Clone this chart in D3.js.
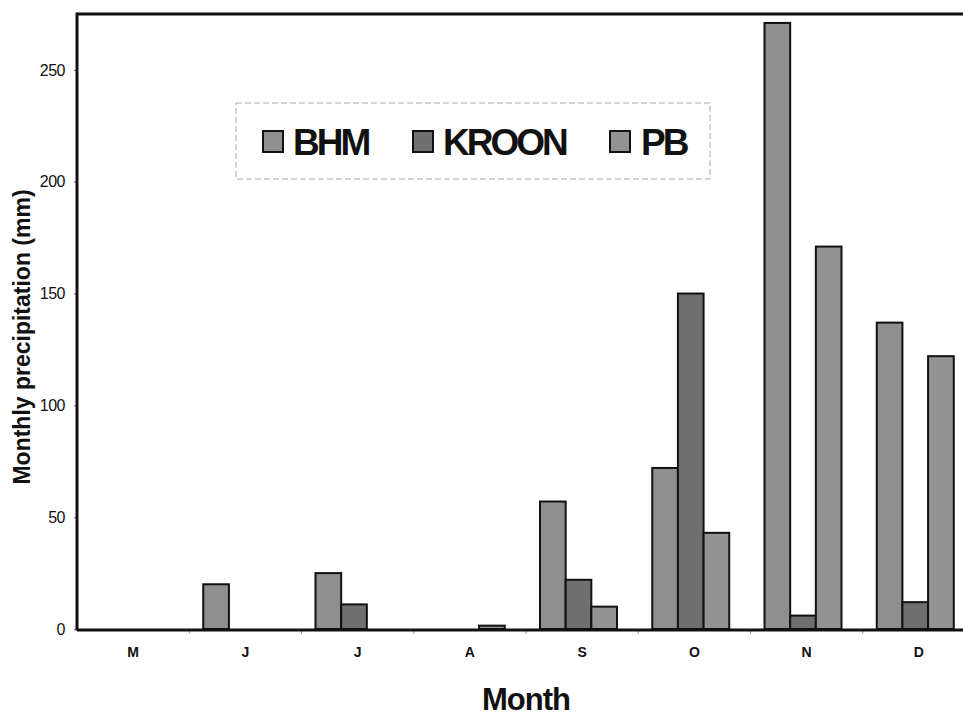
<!DOCTYPE html>
<html>
<head>
<meta charset="utf-8">
<script src="https://cdn.jsdelivr.net/npm/d3@7"></script>
<style>
  body { margin: 0; background: #fff; }
  text { font-family: "Liberation Sans", Arial, sans-serif; fill: #111; }
</style>
</head>
<body>
<div id="chart"></div>
<script>
// data
var months = ["M", "J", "J", "A", "S", "O", "N", "D"];
var seriesNames = ["BHM", "KROON", "PB"];
var bhm   = [0, 20, 25, 0,   57, 72, 271, 137];
var kroon = [0, 0,  11, 0,   22, 150, 6,  12];
var pb    = [0, 0,  0,  1.5, 10, 43, 171, 122];
var yTicks = [0, 50, 100, 150, 200, 250];

var WIDTH = 963, HEIGHT = 718;
var LEFT = 77, TOP = 14, BASE = 629;

var fills = {BHM: "#8f8f8f", KROON: "#6f6f6f", PB: "#939393"};

var svg = d3.select("#chart").append("svg")
    .attr("width", WIDTH)
    .attr("height", HEIGHT);

// months are keyed by index since J appears twice
var x0 = d3.scaleBand()
    .domain(d3.range(months.length))
    .range([LEFT, LEFT + 8 * 112.25]);

var x1 = d3.scaleBand()
    .domain(seriesNames)
    .range([14, 14 + 77]);

var y = d3.scaleLinear()
    .domain([0, 275])
    .range([BASE, TOP]);

var rows = months.map(function(m, i) {
    return {i: i, BHM: bhm[i], KROON: kroon[i], PB: pb[i]};
});

// bars
var groups = svg.append("g").selectAll("g")
    .data(rows)
    .join("g")
    .attr("transform", function(d) { return "translate(" + x0(d.i) + ",0)"; });

groups.selectAll("rect")
    .data(function(d) {
        return seriesNames.map(function(s) { return {key: s, value: d[s]}; })
            .filter(function(e) { return e.value > 0; });
    })
    .join("rect")
    .attr("x", function(d) { return x1(d.key); })
    .attr("width", x1.bandwidth())
    .attr("y", function(d) { return y(d.value); })
    .attr("height", function(d) { return BASE - y(d.value); })
    .attr("fill", function(d) { return fills[d.key]; })
    .attr("stroke", "#111")
    .attr("stroke-width", 2);

// y axis
var yAxis = svg.append("g")
    .attr("transform", "translate(" + LEFT + ",0)")
    .call(d3.axisLeft(y).tickValues(yTicks).tickSize(3).tickPadding(9));
yAxis.select(".domain").remove();
yAxis.selectAll(".tick line").attr("stroke", "#777");
yAxis.selectAll(".tick text")
    .style("font-family", "'Liberation Sans', Arial, sans-serif")
    .style("font-size", "16px")
    .style("letter-spacing", "-0.5px")
    .style("fill", "#111");

// x axis labels
var xAxis = svg.append("g")
    .attr("transform", "translate(0," + BASE + ")")
    .call(d3.axisBottom(x0).tickSize(0).tickPadding(18)
        .tickFormat(function(i) { return months[i]; }));
xAxis.select(".domain").remove();
xAxis.selectAll(".tick text")
    .style("font-family", "'Liberation Sans', Arial, sans-serif")
    .style("font-size", "14px")
    .style("font-weight", "bold")
    .style("fill", "#111");

// small marks between months
svg.append("g").selectAll("line")
    .data(d3.range(1, months.length))
    .join("line")
    .attr("x1", function(i) { return x0(i); })
    .attr("x2", function(i) { return x0(i); })
    .attr("y1", BASE + 2)
    .attr("y2", BASE + 5)
    .attr("stroke", "#999");

// frame lines
svg.append("line")
    .attr("x1", LEFT).attr("x2", LEFT)
    .attr("y1", TOP - 1.5).attr("y2", BASE + 1.5)
    .attr("stroke", "#111").attr("stroke-width", 3);
svg.append("line")
    .attr("x1", LEFT).attr("x2", WIDTH)
    .attr("y1", TOP).attr("y2", TOP)
    .attr("stroke", "#111").attr("stroke-width", 3);
svg.append("line")
    .attr("x1", LEFT).attr("x2", WIDTH)
    .attr("y1", BASE + 1).attr("y2", BASE + 1)
    .attr("stroke", "#111").attr("stroke-width", 3);

// axis titles
svg.append("text")
    .attr("transform", "translate(30," + 337 + ") rotate(-90)")
    .style("text-anchor", "middle")
    .style("font-size", "23px")
    .style("font-weight", "bold")
    .text("Monthly precipitation (mm)");

svg.append("text")
    .attr("x", 526)
    .attr("y", 710)
    .style("text-anchor", "middle")
    .style("font-size", "31px")
    .style("font-weight", "bold")
    .style("letter-spacing", "-1px")
    .text("Month");

// legend
var legend = svg.append("g");
legend.append("rect")
    .attr("x", 236).attr("y", 103)
    .attr("width", 474).attr("height", 76)
    .attr("fill", "#fff")
    .attr("stroke", "#aaa")
    .attr("stroke-dasharray", "6,3");

var legendX = {BHM: 263, KROON: 413, PB: 610};
var legendItems = legend.selectAll("g.item")
    .data(seriesNames)
    .join("g")
    .attr("class", "item")
    .attr("transform", function(d) { return "translate(" + legendX[d] + ",0)"; });

legendItems.append("rect")
    .attr("x", 0).attr("y", 131)
    .attr("width", 20).attr("height", 21)
    .attr("fill", function(d) { return fills[d]; })
    .attr("stroke", "#111")
    .attr("stroke-width", 2);

legendItems.append("text")
    .attr("x", function(d) { return d === "PB" ? 31 : 30; })
    .attr("y", 155)
    .style("font-size", "37px")
    .style("font-weight", "bold")
    .style("letter-spacing", "-3px")
    .text(function(d) { return d; });
</script>
</body>
</html>
